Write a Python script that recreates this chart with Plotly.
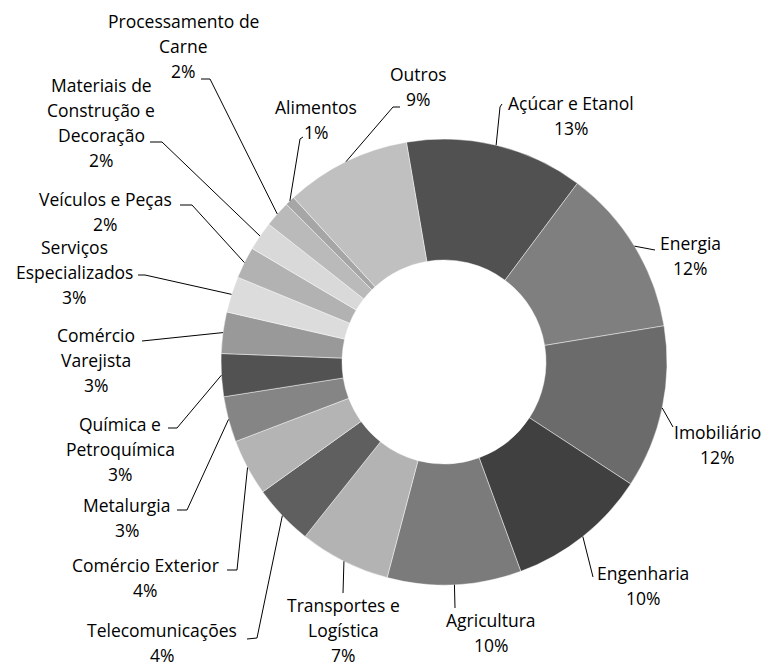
import math
import plotly.graph_objects as go

# ---- data ----
categories = ["Açúcar e Etanol", "Energia", "Imobiliário", "Engenharia", "Agricultura",
              "Transportes e Logística", "Telecomunicações", "Comércio Exterior", "Metalurgia",
              "Química e Petroquímica", "Comércio Varejista", "Serviços Especializados",
              "Veículos e Peças", "Materiais de Construção e Decoração", "Processamento de Carne",
              "Alimentos", "Outros"]
values = [12.9, 12.2, 11.8, 10.2, 9.7, 6.6, 4.4, 4.1, 3.3, 3.1, 3.0, 2.6, 2.3, 2.1, 1.9, 0.7, 9.1]
pct_labels = ["13%", "12%", "12%", "10%", "10%", "7%", "4%", "4%", "3%", "3%", "3%", "3%",
              "2%", "2%", "2%", "1%", "9%"]
label_lines = [["Açúcar e Etanol"], ["Energia"], ["Imobiliário"], ["Engenharia"], ["Agricultura"],
               ["Transportes e", "Logística"], ["Telecomunicações"], ["Comércio Exterior"],
               ["Metalurgia"], ["Química e", "Petroquímica"], ["Comércio", "Varejista"],
               ["Serviços", "Especializados"], ["Veículos e Peças"],
               ["Materiais de", "Construção e", "Decoração"], ["Processamento de", "Carne"],
               ["Alimentos"], ["Outros"]]

# ---- styling / layout (pixels in the 769x667 window) ----
colors = ["#515151", "#7f7f7f", "#6b6b6b", "#404040", "#7b7b7b", "#b3b3b3", "#5f5f5f",
          "#b4b4b4", "#858585", "#525252", "#999999", "#dcdcdc", "#b2b2b2", "#d9d9d9",
          "#bababa", "#a6a6a6", "#c0c0c0"]
OFF = 8                      # default page body margin
W, H = 769 - OFF, 667 - OFF  # figure size
CX, CY, R = 444, 362, 223
HOLE = 102 / 223
ROT = -9.7
FONT = "Open Sans"
FS = 17.5
LINE_H = 25

# label text: (center x, first-line y); leader path after slice edge point
label_pos = [(571, 103), (690, 243), (717, 432), (643, 573), (491, 620), (343, 605),
             (162, 630), (145, 565), (127, 505), (120, 424), (96, 335), (74, 247),
             (105, 199), (101, 85), (183, 21), (316, 107), (418, 74)]
leader_pts = [[(500, 107), (502, 104)], [(655, 250)], [(673, 427)], [(593, 577)], [(455, 608)],
              [(343, 593)], [(257, 638), (247, 639)], [(237, 570), (227, 570)],
              [(187, 510), (177, 510)], [(177, 428), (168, 428)], [(142, 341)],
              [(145, 275), (138, 275)], [(192, 205), (180, 205)], [(162, 142), (150, 142)],
              [(210, 79), (201, 79)], [(300, 139), (303, 137)], [(393, 107), (400, 107)]]


def px(x):
    return (x - OFF) / W


def py(y):
    return 1 - (y - OFF) / H


fig = go.Figure(go.Pie(
    labels=categories, values=values, sort=False, direction="clockwise",
    rotation=ROT, hole=HOLE, textinfo="none", hoverinfo="label+percent",
    marker=dict(colors=colors, line=dict(color="rgba(255,255,255,0.6)", width=0.75)),
    domain=dict(x=[px(CX - R), px(CX + R)], y=[py(CY + R), py(CY - R)]),
    showlegend=False,
))

total = sum(values)
shapes = []
annotations = []
cum = 0.0
for i, v in enumerate(values):
    mid = math.radians(ROT + 360 * (cum + v / 2) / total)
    cum += v
    sx = CX + R * math.sin(mid)
    sy = CY - R * math.cos(mid)
    pts = [(sx, sy)] + leader_pts[i]
    for (x0, y0), (x1, y1) in zip(pts[:-1], pts[1:]):
        shapes.append(dict(type="line", xref="paper", yref="paper",
                           x0=px(x0), y0=py(y0), x1=px(x1), y1=py(y1),
                           line=dict(color="black", width=1)))
    lines = label_lines[i] + [pct_labels[i]]
    lx, ly = label_pos[i]
    for k, t in enumerate(lines):
        annotations.append(dict(text=t, xref="paper", yref="paper",
                                x=px(lx), y=py(ly + k * LINE_H), xanchor="center",
                                yanchor="middle", showarrow=False,
                                font=dict(family=FONT, size=FS, color="black")))

fig.update_layout(width=W, height=H, margin=dict(l=0, r=0, t=0, b=0),
                  paper_bgcolor="white", plot_bgcolor="white",
                  shapes=shapes, annotations=annotations)
fig.write_html("out.html")
